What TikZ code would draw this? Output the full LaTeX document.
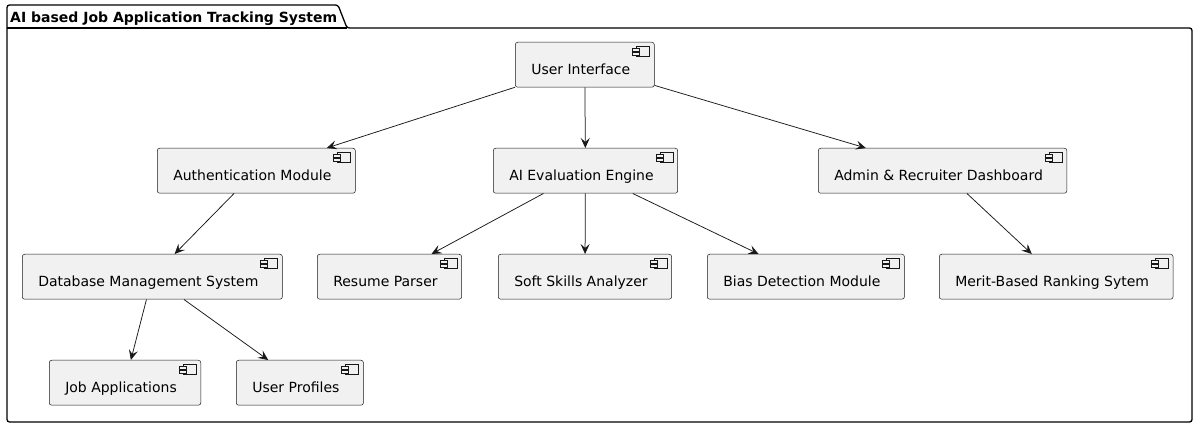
\documentclass[tikz,border=0pt]{standalone}
\usepackage{fontspec}
\setmainfont{DejaVu Sans}
\usetikzlibrary{arrows.meta}

\definecolor{compfill}{HTML}{F1F1F1}
\definecolor{compline}{HTML}{181818}

\tikzset{
  comp/.style={draw=compline, fill=compfill, line width=0.5pt, rounded corners=2.5pt,
    anchor=north west, inner xsep=16pt, inner ysep=0pt, text height=32pt, text depth=13pt,
    font=\fontsize{14}{17}\selectfont},
  link/.style={draw=compline, line width=0.75pt, -{Stealth[length=10pt,width=9pt,inset=4pt]}}
}

\newcommand{\comptext}[1]{#1\hspace*{8pt}}

\begin{document}
\begin{tikzpicture}[x=1pt, y=-1pt]
\useasboundingbox (0,0) rectangle (1197,427);

% package frame
\draw[line width=1.3pt, fill=white, rounded corners=2.5pt]
  (7,28) -- (7,5) -- (338,5) -- (347,28) -- (1192,28) -- (1192,422) -- (7,422) -- cycle;
\draw[line width=1.3pt] (7,28) -- (347,28);
\node[anchor=base west, inner sep=0pt, font=\fontsize{14}{17}\selectfont\bfseries] (pkg) at (10,23) {AI based Job Application Tracking System};

% components
\node[comp] (ui) at (515,42) {\comptext{User Interface}};
\node[comp] (auth) at (157,148) {\comptext{Authentication Module}};
\node[comp] (eval) at (493,148) {\comptext{AI Evaluation Engine}};
\node[comp] (admin) at (818,148) {\comptext{Admin \& Recruiter Dashboard}};
\node[comp] (dbms) at (22,254) {\comptext{Database Management System}};
\node[comp] (parser) at (317,254) {\comptext{Resume Parser}};
\node[comp] (soft) at (498,254) {\comptext{Soft Skills Analyzer}};
\node[comp] (bias) at (707,254) {\comptext{Bias Detection Module}};
\node[comp] (merit) at (939,254) {\comptext{Merit-Based Ranking Sytem}};
\node[comp] (jobs) at (49,360) {\comptext{Job Applications}};
\node[comp] (profiles) at (236,360) {\comptext{User Profiles}};

% component icons
\foreach \n in {ui,auth,eval,admin,dbms,parser,soft,bias,merit,jobs,profiles} {
  \draw[compline, line width=0.4pt, fill=compfill] ([shift={(-18,4)}]\n.north east) rectangle ([shift={(-5,14)}]\n.north east);
  \draw[compline, line width=0.4pt, fill=compfill] ([shift={(-22,6)}]\n.north east) rectangle ([shift={(-15,9)}]\n.north east);
  \draw[compline, line width=0.4pt, fill=compfill] ([shift={(-22,10)}]\n.north east) rectangle ([shift={(-15,13)}]\n.north east);
}

% dependencies
\draw[link] (ui) -- (auth);
\draw[link] (ui) -- (eval);
\draw[link] (ui) -- (admin);
\draw[link] (auth) -- (dbms);
\draw[link] (eval) -- (parser);
\draw[link] (eval) -- (soft);
\draw[link] (eval) -- (bias);
\draw[link] (admin) -- (merit);
\draw[link] (dbms) -- (jobs);
\draw[link] (dbms) -- (profiles);

\end{tikzpicture}
\end{document}
